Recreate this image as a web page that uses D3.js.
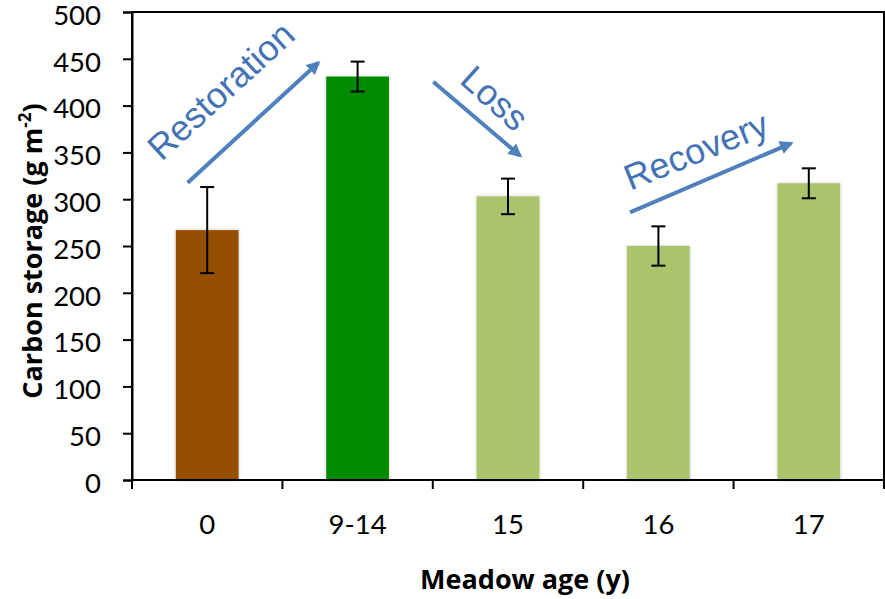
<!DOCTYPE html>
<html><head><meta charset="utf-8">
<script src="https://cdn.jsdelivr.net/npm/d3@7"></script>
<style>body{margin:0;background:#fff}svg{display:block}</style>
</head><body>
<script>
const categories = ["0","9-14","15","16","17"];
const values = [267, 431, 303, 250, 317];
const errors = [46, 16, 19, 21, 16];
const barColors = ["#944F00","#008A00","#A9C46B","#A9C46B","#A9C46B"];
const yTicks = [0,50,100,150,200,250,300,350,400,450,500];
// annotations: u = position in category units (0..5), v = value
const arrows = [
  {u1:0.370, v1:317.6, u2:1.239, v2:445.8},
  {u1:2.003, v1:425.5, u2:2.580, v2:346.5},
  {u1:3.311, v1:286.0, u2:4.382, v2:359.7}
];
const labels = [
  {text:"Restoration", u:0.590, v:416, angle:-42.5},
  {text:"Loss", u:2.413, v:408, angle:42},
  {text:"Recovery", u:3.75, v:352, angle:-22}
];

const W=885,H=599;
const m={l:132,r:1,t:12,b:119};
const svg=d3.select("body").append("svg").attr("width",W).attr("height",H);
const defs=svg.append("defs");
const f=defs.append("filter").attr("id","sh").attr("x","-20%").attr("y","-5%").attr("width","140%").attr("height","110%");
f.append("feDropShadow").attr("dx",0).attr("dy",0).attr("stdDeviation",1.5).attr("flood-color","#000").attr("flood-opacity",0.25);
defs.append("marker").attr("id","ah").attr("viewBox","0 0 10 10").attr("refX",8).attr("refY",5)
  .attr("markerWidth",4.2).attr("markerHeight",3.4).attr("markerUnits","strokeWidth").attr("orient","auto")
  .append("path").attr("d","M0,0L10,5L0,10Z").attr("fill","#4F81BD");

const x=d3.scaleBand().domain(categories).range([m.l,W-m.r]).paddingInner(0.583).paddingOuter(0.2915);
const xu=d3.scaleLinear().domain([0,categories.length]).range([m.l,W-m.r]);
const y=d3.scaleLinear().domain([0,500]).range([H-m.b,m.t]);
const FONT="Lato, 'Open Sans', sans-serif";
const TFONT="'Open Sans', Lato, sans-serif";

const g=svg.append("g");
g.selectAll("rect.bar").data(values).join("rect").attr("class","bar")
 .attr("x",(d,i)=>x(categories[i])).attr("width",x.bandwidth())
 .attr("y",d=>y(d)).attr("height",d=>y(0)-y(d)).attr("fill",(d,i)=>barColors[i]).attr("filter","url(#sh)");
const eb=g.selectAll("g.eb").data(values).join("g").attr("class","eb").attr("stroke","#000").attr("stroke-width",2);
eb.append("line").attr("x1",(d,i)=>x(categories[i])+x.bandwidth()/2).attr("x2",(d,i)=>x(categories[i])+x.bandwidth()/2)
  .attr("y1",(d,i)=>y(d+errors[i])).attr("y2",(d,i)=>y(d-errors[i]));
[1,-1].forEach(s=>{
 eb.append("line").attr("x1",(d,i)=>x(categories[i])+x.bandwidth()/2-7).attr("x2",(d,i)=>x(categories[i])+x.bandwidth()/2+7)
  .attr("y1",(d,i)=>y(d+s*errors[i])).attr("y2",(d,i)=>y(d+s*errors[i]));
});

svg.append("rect").attr("x",m.l).attr("y",m.t).attr("width",W-m.r-m.l).attr("height",H-m.b-m.t)
 .attr("fill","none").attr("stroke","#000").attr("stroke-width",2);

const ya=svg.append("g").attr("transform",`translate(${m.l},0)`)
 .call(d3.axisLeft(y).tickValues(yTicks).tickSize(9).tickPadding(22));
ya.select(".domain").attr("stroke-width",2);
ya.selectAll(".tick line").attr("stroke-width",2);
ya.selectAll("text").attr("font-family",FONT).attr("font-size",27.5).attr("fill","#000").attr("dy","0.45em");

const xa=svg.append("g").attr("transform",`translate(0,${H-m.b})`);
const bounds=d3.range(categories.length+1);
xa.selectAll("line").data(bounds).join("line").attr("x1",d=>xu(d)).attr("x2",d=>xu(d)).attr("y1",0).attr("y2",9)
 .attr("stroke","#000").attr("stroke-width",2);
xa.selectAll("text").data(categories).join("text").attr("x",d=>x(d)+x.bandwidth()/2).attr("y",54)
 .attr("text-anchor","middle").attr("font-family",FONT).attr("font-size",27.5).text(d=>d);

svg.append("text").attr("x",525).attr("y",589).attr("text-anchor","middle")
 .attr("font-family",TFONT).attr("font-weight","bold").attr("font-size",27).text("Meadow age (y)");
const yt=svg.append("text").attr("transform",`translate(42,251) rotate(-90)`).attr("text-anchor","middle")
 .attr("font-family",TFONT).attr("font-weight","bold").attr("font-size",27);
yt.append("tspan").text("Carbon storage (g m");
yt.append("tspan").attr("dy",-11).attr("font-size",17).text("-2");
yt.append("tspan").attr("dy",11).text(")");

svg.selectAll("line.arr").data(arrows).join("line").attr("class","arr")
 .attr("x1",d=>xu(d.u1)).attr("y1",d=>y(d.v1)).attr("x2",d=>xu(d.u2)).attr("y2",d=>y(d.v2))
 .attr("stroke","#4F81BD").attr("stroke-width",4).attr("marker-end","url(#ah)");
svg.selectAll("text.ann").data(labels).join("text").attr("class","ann")
 .attr("transform",d=>`translate(${xu(d.u)},${y(d.v)}) rotate(${d.angle})`)
 .attr("text-anchor","middle").attr("dy","0.35em").attr("font-family","'Liberation Sans', Arial, sans-serif")
 .attr("font-size",36).attr("fill","#4473B5").text(d=>d.text);
</script>
</body></html>
